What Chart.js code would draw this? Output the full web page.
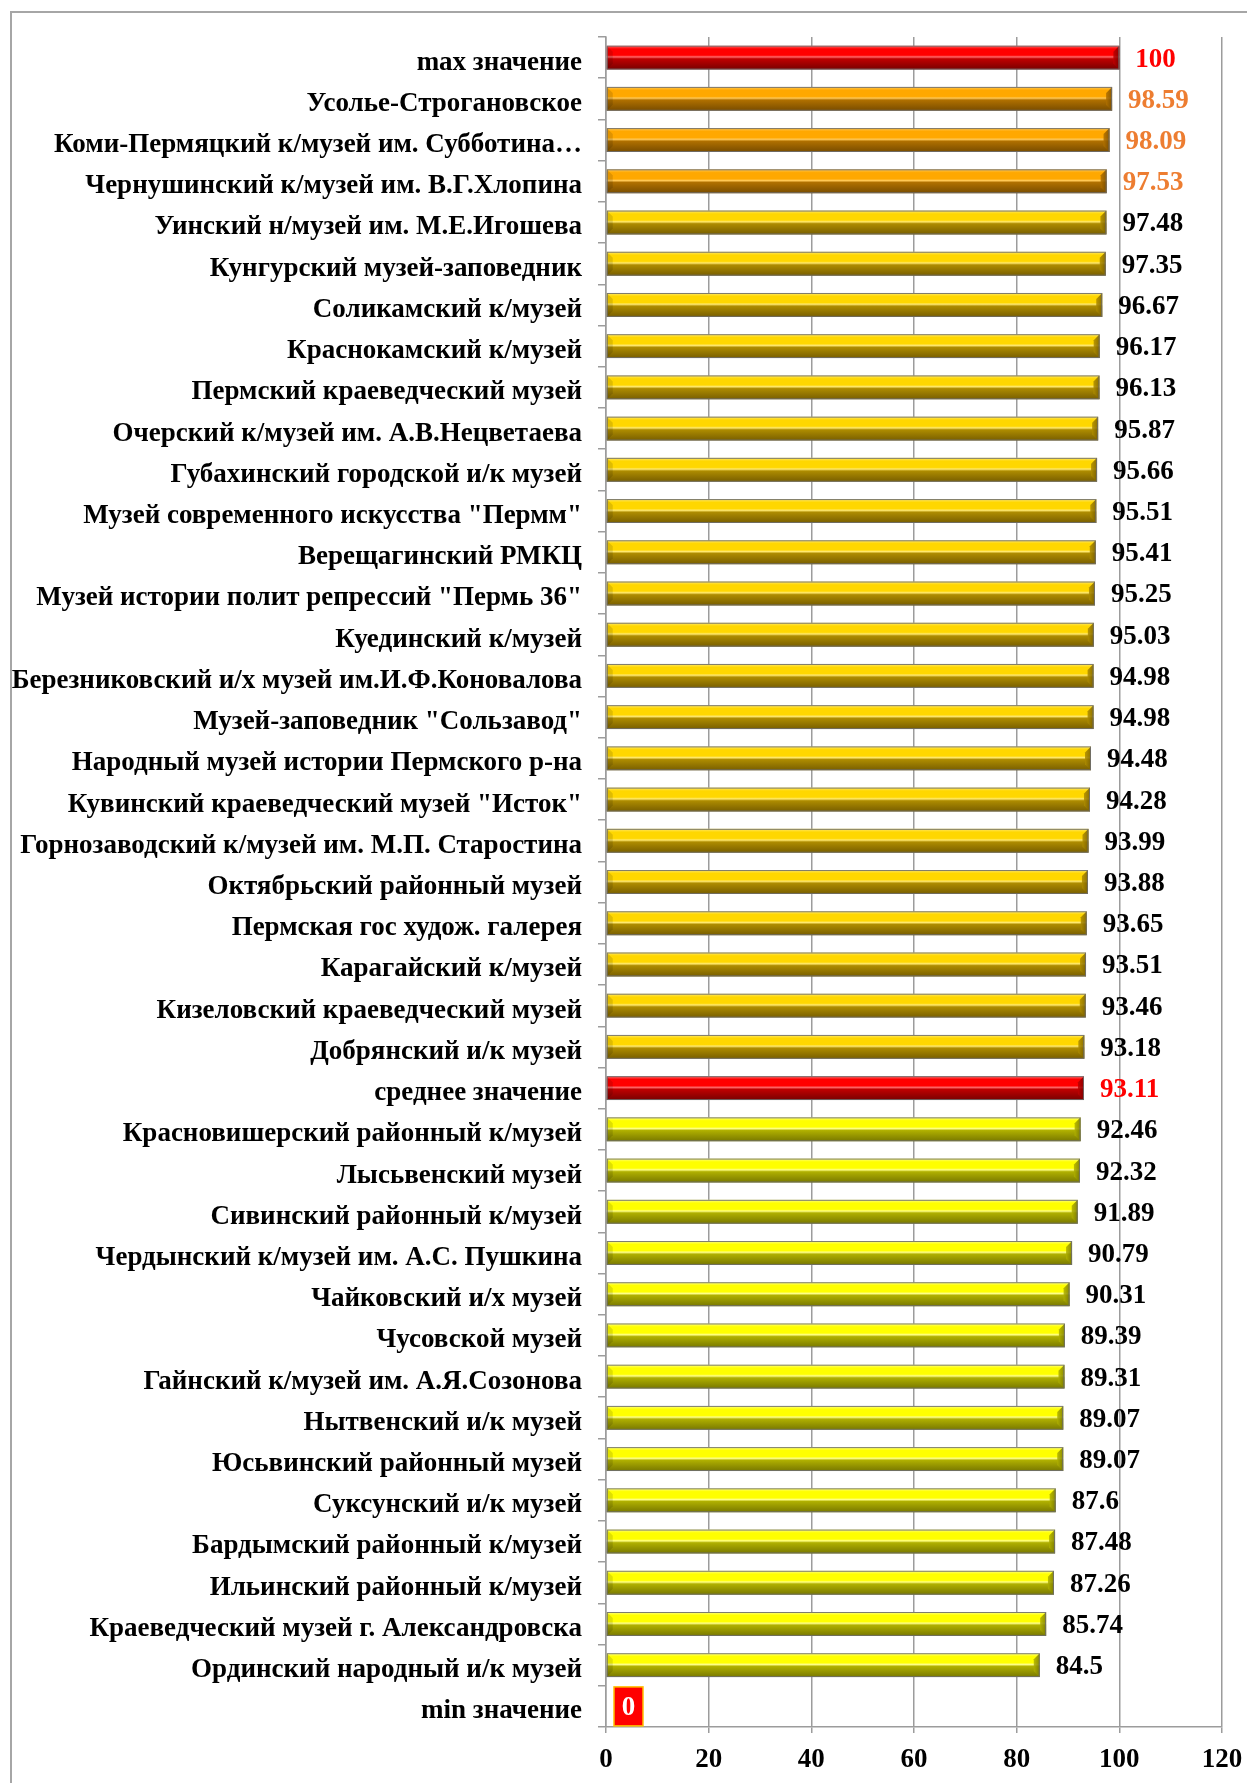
<!DOCTYPE html>
<html><head><meta charset="utf-8">
<script src="https://cdn.jsdelivr.net/npm/chart.js@4/dist/chart.umd.min.js"></script>
<style>
html,body{margin:0;padding:0;background:#fff;overflow:hidden;}
#wrap{position:relative;width:1247px;height:1783px;}
#frame{position:absolute;left:10px;top:11px;width:1300px;height:1900px;border-left:2px solid #A6A6A6;border-top:2px solid #A6A6A6;box-sizing:border-box;}
canvas{position:absolute;left:0;top:0;}
</style></head><body>
<div id="wrap"><div id="frame"></div><canvas id="c" width="1247" height="1783"></canvas></div>
<script>
const categories = [
  'max значение',
  'Усолье-Строгановское',
  'Коми-Пермяцкий к/музей им. Субботина…',
  'Чернушинский к/музей им. В.Г.Хлопина',
  'Уинский н/музей им. М.Е.Игошева',
  'Кунгурский музей-заповедник',
  'Соликамский к/музей',
  'Краснокамский к/музей',
  'Пермский краеведческий музей',
  'Очерский к/музей им. А.В.Нецветаева',
  'Губахинский городской и/к музей',
  'Музей современного искусства "Пермм"',
  'Верещагинский РМКЦ',
  'Музей истории полит репрессий "Пермь 36"',
  'Куединский к/музей',
  'Березниковский и/х музей им.И.Ф.Коновалова',
  'Музей-заповедник "Сользавод"',
  'Народный музей истории Пермского р-на',
  'Кувинский краеведческий музей "Исток"',
  'Горнозаводский к/музей им. М.П. Старостина',
  'Октябрьский районный музей',
  'Пермская гос худож. галерея',
  'Карагайский к/музей',
  'Кизеловский краеведческий музей',
  'Добрянский и/к музей',
  'среднее значение',
  'Красновишерский районный к/музей',
  'Лысьвенский музей',
  'Сивинский районный к/музей',
  'Чердынский к/музей им. А.С. Пушкина',
  'Чайковский и/х музей',
  'Чусовской музей',
  'Гайнский к/музей им. А.Я.Созонова',
  'Нытвенский и/к музей',
  'Юсьвинский районный музей',
  'Суксунский и/к музей',
  'Бардымский районный к/музей',
  'Ильинский районный к/музей',
  'Краеведческий музей г. Александровска',
  'Ординский народный и/к музей',
  'min значение'
];
const values = [
  100, 98.59, 98.09, 97.53, 97.48, 97.35, 96.67, 96.17, 96.13, 95.87,
  95.66, 95.51, 95.41, 95.25, 95.03, 94.98, 94.98, 94.48, 94.28, 93.99,
  93.88, 93.65, 93.51, 93.46, 93.18, 93.11, 92.46, 92.32, 91.89, 90.79,
  90.31, 89.39, 89.31, 89.07, 89.07, 87.6, 87.48, 87.26, 85.74, 84.5,
  0
];
const tiers = [
  'red', 'orange', 'orange', 'orange',
  'gold', 'gold', 'gold', 'gold', 'gold', 'gold', 'gold', 'gold', 'gold', 'gold',
  'gold', 'gold', 'gold', 'gold', 'gold', 'gold', 'gold', 'gold', 'gold', 'gold', 'gold',
  'red',
  'yellow', 'yellow', 'yellow', 'yellow', 'yellow', 'yellow', 'yellow',
  'yellow', 'yellow', 'yellow', 'yellow', 'yellow', 'yellow', 'yellow',
  'min'
];
const xTickValues = [0, 20, 40, 60, 80, 100, 120];

const palette = {
  red:    {light:'#FF6A6A', base:'#FF0000', mid:'#C00000', dark:'#780000', label:'#FF0000'},
  orange: {light:'#FFC857', base:'#FFA800', mid:'#B07000', dark:'#784C00', label:'#ED7D31'},
  gold:   {light:'#FFE970', base:'#FFD700', mid:'#AE8C00', dark:'#785E00', label:'#000000'},
  yellow: {light:'#FFFF8A', base:'#FFFF00', mid:'#B0B000', dark:'#787800', label:'#000000'},
  min:    {light:'#FF0000', base:'#FF0000', mid:'#FF0000', dark:'#FF0000', label:'#FFFFFF'}
};
const FONT = '"Liberation Serif", "Times New Roman", serif';

function barFill(ctx){
  const chart = ctx.chart;
  const p = palette[tiers[ctx.dataIndex]];
  if (!chart.chartArea || !chart.scales.y) return p.base;
  const y = chart.scales.y.getPixelForValue(ctx.dataIndex);
  const half = 12;
  const g = chart.ctx.createLinearGradient(0, y - half, 0, y + half);
  g.addColorStop(0, p.light);
  g.addColorStop(0.14, p.base);
  g.addColorStop(0.40, p.base);
  g.addColorStop(0.47, p.light);
  g.addColorStop(0.55, p.mid);
  g.addColorStop(1, p.dark);
  return g;
}

const bevelPlugin = {
  id: 'bevel',
  afterDatasetsDraw(chart){
    const c = chart.ctx;
    const meta = chart.getDatasetMeta(0);
    meta.data.forEach((el, i) => {
      if (tiers[i] === 'min') return;
      const {x, y, base, height} = el.getProps(['x','y','base','height'], true);
      const top = y - height/2, bot = y + height/2, b = 6;
      const p = palette[tiers[i]];
      c.save();
      c.beginPath();
      c.moveTo(base, top); c.lineTo(base+b, top+b); c.lineTo(base+b, bot-b); c.lineTo(base, bot); c.closePath();
      c.fillStyle = 'rgba(0,0,0,0.12)'; c.fill();
      c.beginPath();
      c.moveTo(x, top); c.lineTo(x, bot); c.lineTo(x-b, bot-b); c.lineTo(x-b, top+b); c.closePath();
      const g = c.createLinearGradient(x-b, 0, x, 0);
      g.addColorStop(0, p.mid); g.addColorStop(1, p.dark);
      c.fillStyle = g; c.globalAlpha = 0.85; c.fill();
      c.globalAlpha = 1;
      c.strokeStyle = 'rgba(110,110,110,0.9)';
      c.lineWidth = 1;
      c.strokeRect(base+0.5, top+0.5, x-base-1, height-1);
      c.restore();
    });
  }
};

const valueLabelPlugin = {
  id: 'valueLabels',
  afterDatasetsDraw(chart){
    const c = chart.ctx;
    const meta = chart.getDatasetMeta(0);
    c.save();
    c.font = 'bold 27px ' + FONT;
    c.textBaseline = 'middle';
    meta.data.forEach((el, i) => {
      const {x, y} = el.getProps(['x','y'], true);
      const t = tiers[i];
      const txt = String(values[i]);
      if (t === 'min') {
        const w = 29, h = 39;
        c.fillStyle = '#FF0000';
        c.fillRect(x + 8, y - h/2, w, h);
        c.strokeStyle = '#FFC000';
        c.lineWidth = 1.5;
        c.strokeRect(x + 8, y - h/2, w, h);
        c.fillStyle = '#FFFFFF';
        c.textAlign = 'center';
        c.fillText(txt, x + 8 + w/2, y + 2);
      } else {
        c.fillStyle = palette[t].label;
        c.textAlign = 'left';
        c.fillText(txt, x + 16, y + 2);
      }
    });
    c.restore();
  }
};

new Chart(document.getElementById('c'), {
  type: 'bar',
  data: {
    labels: categories,
    datasets: [{
      data: values,
      backgroundColor: barFill,
      borderWidth: 0,
      barPercentage: 0.58,
      categoryPercentage: 1.0
    }]
  },
  options: {
    indexAxis: 'y',
    responsive: false,
    animation: false,
    devicePixelRatio: 1,
    layout: {padding: {top: 37, right: 25, bottom: 0, left: 0}},
    plugins: {legend: {display: false}, tooltip: {enabled: false}},
    scales: {
      x: {
        min: 0, max: 120,
        afterBuildTicks(scale){ scale.ticks = xTickValues.map(v => ({value: v})); },
        afterFit(scale){ scale.height = 56; scale.paddingLeft = 0; scale.paddingRight = 0; },
        grid: {color: '#9C9C9C', lineWidth: 1.5, tickLength: 6, drawTicks: true},
        border: {color: '#9C9C9C', width: 1.5},
        ticks: {color: '#000', padding: 11, font: {family: FONT, size: 27, weight: 'bold'}}
      },
      y: {
        afterFit(scale){ scale.width = 606; scale.paddingTop = 0; scale.paddingBottom = 0; },
        grid: {drawOnChartArea: false, offset: true, tickLength: 8, color: '#9C9C9C', lineWidth: 1.5},
        border: {color: '#9C9C9C', width: 1.5},
        ticks: {color: '#000', padding: 16, labelOffset: 5, autoSkip: false, font: {family: FONT, size: 27, weight: 'bold'}}
      }
    }
  },
  plugins: [bevelPlugin, valueLabelPlugin]
});
</script>
</body></html>
